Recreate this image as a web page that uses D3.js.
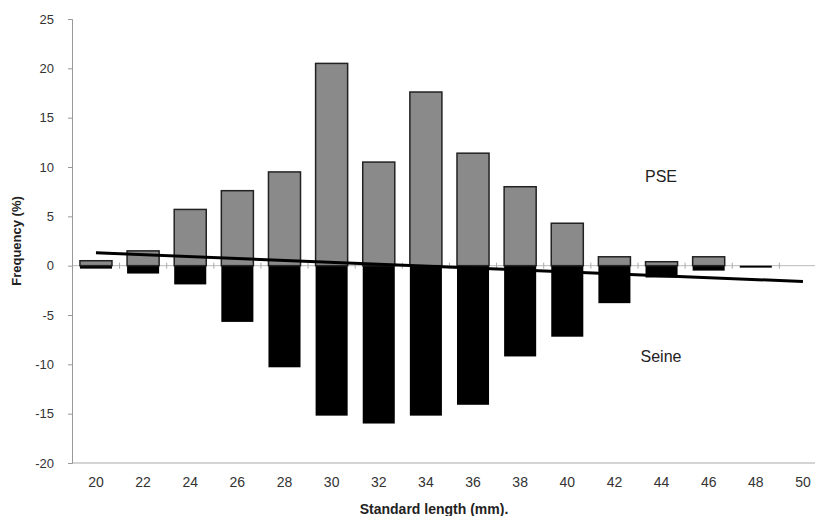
<!DOCTYPE html>
<html>
<head>
<meta charset="utf-8">
<script src="https://cdn.jsdelivr.net/npm/d3@7"></script>
<style>
  body { margin: 0; background: #fff; }
  .tick text { fill: #333; }
</style>
</head>
<body>
<div id="chart"></div>
<script>
// data
var lengths = [20, 22, 24, 26, 28, 30, 32, 34, 36, 38, 40, 42, 44, 46, 48, 50];
var pse = [0.5, 1.5, 5.7, 7.6, 9.5, 20.5, 10.5, 17.6, 11.4, 8.0, 4.3, 0.9, 0.4, 0.9, 0, 0];
var seine = [-0.3, -0.8, -1.9, -5.7, -10.3, -15.2, -16.0, -15.2, -14.1, -9.2, -7.2, -3.8, -1.2, -0.5, -0.2, 0];
var trendX = [20, 50];
var trendY = [1.3, -1.6];
var yTicks = [-20, -15, -10, -5, 0, 5, 10, 15, 20, 25];

var width = 825,
    height = 516,
    margin = { left: 72, right: 10, top: 19, bottom: 53 };

var svg = d3.select("#chart").append("svg")
    .attr("width", width)
    .attr("height", height);

var xScale = d3.scaleBand()
    .domain(lengths)
    .range([72.4, 826.5])
    .paddingInner(0.32)
    .paddingOuter(0.16);

var yScale = d3.scaleLinear()
    .domain([-20, 25])
    .range([height - margin.bottom, margin.top]);

var xRight = 815;

// bottom axis line
svg.append("line")
    .attr("x1", margin.left).attr("x2", xRight)
    .attr("y1", yScale(-20)).attr("y2", yScale(-20))
    .attr("stroke", "#aaa").attr("stroke-width", 1);

// zero line with ticks at category boundaries
var g0 = svg.append("g").attr("class", "zero");
g0.append("line")
    .attr("x1", margin.left).attr("x2", xRight)
    .attr("y1", yScale(0)).attr("y2", yScale(0))
    .attr("stroke", "#bbb").attr("stroke-width", 1);
g0.selectAll("line.b").data(lengths).enter().append("line")
    .attr("class", "b")
    .attr("x1", function(d) { return xScale(d) + xScale.bandwidth() + xScale.step() * 0.16; })
    .attr("x2", function(d) { return xScale(d) + xScale.bandwidth() + xScale.step() * 0.16; })
    .attr("y1", yScale(0) - 3).attr("y2", yScale(0) + 3)
    .attr("stroke", "#aaa");

// y axis
var yAxis = d3.axisLeft(yScale).tickValues(yTicks).tickSize(4).tickPadding(14)
    .tickFormat(function(d) { return String(d); });
var gy = svg.append("g")
    .attr("transform", "translate(" + margin.left + ",0)")
    .call(yAxis);
gy.select(".domain").attr("stroke", "#999");
gy.selectAll(".tick line").attr("stroke", "#999");
gy.selectAll(".tick text")
    .style("font-family", "Liberation Sans, Arial, sans-serif")
    .style("font-size", "13px");

// x axis labels
var xAxis = d3.axisBottom(xScale).tickSize(0).tickPadding(14);
var gx = svg.append("g")
    .attr("transform", "translate(0," + yScale(-20) + ")")
    .call(xAxis);
gx.select(".domain").remove();
gx.selectAll(".tick text")
    .style("font-family", "Liberation Sans Narrow, Arial Narrow, Liberation Sans, sans-serif")
    .style("font-size", "14px");

// seine bars (negative)
svg.selectAll("rect.seine").data(seine).enter().append("rect")
    .attr("class", "seine")
    .attr("x", function(d, i) { return xScale(lengths[i]); })
    .attr("width", xScale.bandwidth())
    .attr("y", yScale(0))
    .attr("height", function(d) { return yScale(d) - yScale(0); })
    .attr("fill", "#000");

// pse bars (positive)
svg.selectAll("rect.pse").data(pse).enter().append("rect")
    .attr("class", "pse")
    .attr("x", function(d, i) { return xScale(lengths[i]); })
    .attr("width", xScale.bandwidth())
    .attr("y", function(d) { return yScale(d); })
    .attr("height", function(d) { return yScale(0) - yScale(d); })
    .attr("fill", "#8a8a8a")
    .attr("stroke", function(d) { return d > 0 ? "#222" : "none"; })
    .attr("stroke-width", 1.5);

// linear trend
var line = d3.line()
    .x(function(d, i) { return xScale(d) + xScale.bandwidth() / 2; })
    .y(function(d, i) { return yScale(trendY[i]); });
svg.append("path")
    .datum(trendX)
    .attr("d", line)
    .attr("fill", "none")
    .attr("stroke", "#000")
    .attr("stroke-width", 3);

// labels
svg.append("text")
    .attr("x", 661).attr("y", 182)
    .attr("text-anchor", "middle")
    .style("font-family", "Liberation Sans, Arial, sans-serif")
    .style("font-size", "16px")
    .attr("fill", "#222")
    .text("PSE");

svg.append("text")
    .attr("x", 661).attr("y", 362)
    .attr("text-anchor", "middle")
    .style("font-family", "Liberation Sans, Arial, sans-serif")
    .style("font-size", "16px")
    .attr("fill", "#222")
    .text("Seine");

svg.append("text")
    .attr("transform", "translate(21," + yScale(2.5) + ") rotate(-90)")
    .attr("text-anchor", "middle")
    .style("font-family", "Liberation Sans, Arial, sans-serif")
    .style("font-size", "13px")
    .style("font-weight", "bold")
    .attr("fill", "#222")
    .text("Frequency (%)");

svg.append("text")
    .attr("x", 434).attr("y", 514)
    .attr("text-anchor", "middle")
    .style("font-family", "Liberation Sans Narrow, Arial Narrow, Liberation Sans, sans-serif")
    .style("font-size", "14px")
    .style("font-weight", "bold")
    .attr("fill", "#222")
    .text("Standard length (mm).");
</script>
</body>
</html>
